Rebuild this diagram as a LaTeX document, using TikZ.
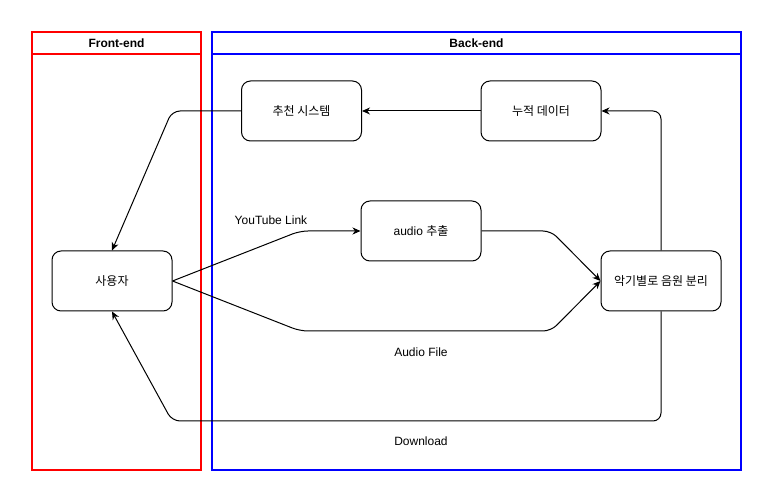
\documentclass[tikz,border=0pt]{standalone}
\usepackage{fontspec}
\setmainfont{Liberation Sans}
\newfontfamily\kr{Noto Sans CJK KR}
\usetikzlibrary{arrows.meta}
\begin{document}
\begin{tikzpicture}[x=1pt,y=-1pt,
  box/.style={draw=black,line width=1pt,rounded corners=9pt,minimum width=120pt,minimum height=60pt,inner sep=0pt,font=\fontsize{12}{14}\selectfont},
  arr/.style={draw=black,line width=1pt,rounded corners=8pt,-{Stealth[length=8pt,width=7pt,inset=2.5pt]}},
  lbl/.style={font=\fontsize{12}{14}\selectfont,inner sep=0pt},
  lane/.style={line width=2pt},
  hdr/.style={font=\bfseries\fontsize{12}{14}\selectfont,inner sep=0pt}]
\useasboundingbox (0,0) rectangle (772,502);
% swimlanes
\draw[lane,draw=red] (32,32) rectangle (201,470);
\draw[lane,draw=red] (32,54) -- (201,54);
\node[hdr] (fe) at (116.5,43) {Front-end};
\draw[lane,draw=blue] (212,32) rectangle (741,470);
\draw[lane,draw=blue] (212,54) -- (741,54);
\node[hdr] (be) at (476.5,43) {Back-end};
% nodes
\node[box] (rec) at (301.5,111) {\kr 추천 시스템};
\node[box] (acc) at (541,111) {\kr 누적 데이터};
\node[box] (ext) at (421,231) {audio {\kr 추출}};
\node[box] (user) at (112,281) {\kr 사용자};
\node[box] (sep) at (661,281) {\kr 악기별로 음원 분리};
% waypoints
\coordinate (c1) at (172,111);
\coordinate (c2) at (300,231);
\coordinate (c3) at (300,331);
\coordinate (c4) at (551,331);
\coordinate (c5) at (551,231);
\coordinate (c6) at (661,111);
\coordinate (c7) at (661,421);
\coordinate (c8) at (172,421);
% edges
\draw[arr] (acc.west) -- (rec.east);
\draw[arr] (rec.west) -- (c1) -- (user.north);
\draw[arr] (user.east) -- (c2) -- (ext.west);
\draw[arr] (user.east) -- (c3) -- (c4) -- (sep.west);
\draw[arr] (ext.east) -- (c5) -- (sep.west);
\draw[arr] (sep.north) -- (c6) -- (acc.east);
\draw[arr] (sep.south) -- (c7) -- (c8) -- (user.south);
% labels
\node[lbl] (l1) at (271,220) {YouTube Link};
\node[lbl] (l2) at (421,352) {Audio File};
\node[lbl] (l3) at (421,441) {Download};
\end{tikzpicture}
\end{document}
